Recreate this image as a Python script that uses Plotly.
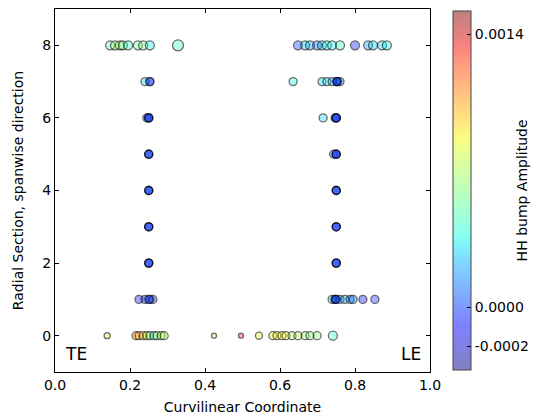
import plotly.graph_objects as go

# ---- data ----
# (overlapping samples at the same location are listed repeatedly)
section = (
    [0]*10 + [0]*13 +
    [1]*4 + [1]*8 + [1, 1, 1] +
    [2, 2, 3, 3, 4, 4, 5, 5, 5, 6, 6, 6, 6, 6] +
    [2, 2, 2, 2, 3, 3, 3, 3, 4, 4, 4, 4, 5, 5, 5, 5, 6, 6, 6, 6] +
    [7]*2 + [7]*6 + [7, 7, 7] +
    [8]*9 + [8]*13
)
coord = (
    [0.139, 0.216, 0.224, 0.235, 0.245, 0.253, 0.264, 0.272, 0.283, 0.291] +
    [0.424, 0.496, 0.544, 0.581, 0.592, 0.605, 0.616, 0.632, 0.648, 0.667, 0.680, 0.699, 0.741] +
    [0.224, 0.240, 0.253, 0.261] +
    [0.739, 0.747, 0.760, 0.773, 0.787, 0.795, 0.821, 0.853] +
    [0.250, 0.747, 0.750] +
    [0.250, 0.750, 0.250, 0.750, 0.250, 0.750, 0.250, 0.743, 0.750,
     0.245, 0.250, 0.715, 0.747, 0.750] +
    [0.250, 0.250, 0.750, 0.750, 0.250, 0.250, 0.750, 0.750, 0.250, 0.250, 0.750, 0.750,
     0.250, 0.250, 0.750, 0.750, 0.250, 0.250, 0.750, 0.750] +
    [0.240, 0.253] +
    [0.635, 0.712, 0.725, 0.739, 0.752, 0.760] +
    [0.253, 0.752, 0.752] +
    [0.147, 0.160, 0.173, 0.181, 0.195, 0.221, 0.235, 0.253, 0.328] +
    [0.648, 0.667, 0.680, 0.699, 0.712, 0.725, 0.739, 0.760, 0.800, 0.835, 0.848, 0.872, 0.885]
)
amplitude = (
    [0.00085, 0.00110, 0.00105, 0.00100, 0.00090, 0.00040, 0.00060, 0.00062, 0.00070, 0.00075] +
    [0.00075, 0.00130, 0.00080, 0.00085, 0.00090, 0.00088, 0.00080, 0.00075, 0.00070, 0.00068,
     0.00062, 0.00060, 0.00040] +
    [-0.00015, -0.00005, 0.00000, -0.00002] +
    [0.00030, -0.00002, 0.00015, 0.00020, 0.00010, 0.00012, -0.00012, -0.00003] +
    [0.0, 0.0, 0.0] +
    [0.0, 0.0, 0.0, 0.0, 0.0, 0.0, 0.0, 0.00010, 0.0,
     0.00010, 0.0, 0.00030, 0.0, 0.0] +
    [0.0]*20 +
    [0.00030, 0.0] +
    [0.00035, 0.00030, 0.00035, 0.00020, 0.0, 0.00005] +
    [0.0, 0.0, 0.0] +
    [0.00050, 0.00065, 0.00070, 0.00050, 0.00040, 0.00055, 0.00060, 0.00035, 0.00045] +
    [0.0, 0.00030, 0.00020, 0.00010, 0.00025, 0.00040, 0.00035, 0.00045, -0.00012,
     0.00020, 0.00030, 0.00030, 0.00035]
)
sizes = (
    [6, 8, 8, 8, 8, 8, 8, 8, 8, 8] +
    [5, 5, 7, 8, 8, 8, 8, 8, 8, 8, 8, 8, 9] +
    [8]*4 + [8]*8 + [8]*3 +
    [8]*14 + [8]*20 +
    [8]*2 + [8]*6 + [8]*3 +
    [9, 9, 9, 9, 9, 9, 9, 9, 11] +
    [9]*13
)
amp_min, amp_max = -0.00032, 0.00152
cbar_ticks = [-0.0002, 0.0, 0.0014]
cbar_ticktext = ["-0.0002", "0.0000", "0.0014"]
x_ticks = [0.0, 0.2, 0.4, 0.6, 0.8, 1.0]
y_ticks = [0, 2, 4, 6, 8]

# ---- jet colormap (matplotlib definition) with alpha ----
def interp(segs, t):
    for (x0, v0), (x1, v1) in zip(segs, segs[1:]):
        if x0 <= t <= x1:
            return v0 + (v1 - v0) * (t - x0) / (x1 - x0) if x1 > x0 else v1
    return segs[-1][1]

R = [(0, 0), (0.35, 0), (0.66, 1), (0.89, 1), (1, 0.5)]
G = [(0, 0), (0.125, 0), (0.375, 1), (0.64, 1), (0.91, 0), (1, 0)]
B = [(0, 0.5), (0.11, 1), (0.34, 1), (0.65, 0), (1, 0)]
n = 41
jet = []
for i in range(n):
    t = i / (n - 1)
    r, g, b = (int(round(255 * interp(s, t))) for s in (R, G, B))
    jet.append([t, f"rgba({r},{g},{b},0.5)"])

fig = go.Figure()
fig.add_trace(go.Scatter(
    x=coord, y=section, mode="markers",
    marker=dict(
        size=sizes, color=amplitude, colorscale=jet, cmin=amp_min, cmax=amp_max,
        line=dict(color="rgba(0,0,0,0.8)", width=1.3),
        colorbar=dict(
            tickmode="array", tickvals=cbar_ticks, ticktext=cbar_ticktext,
            ticks="inside", ticklen=4, tickcolor="black",
            thickness=18, len=0.99, lenmode="fraction",
            x=1.061, xanchor="left", y=0.5, yanchor="middle",
            xpad=0, ypad=0,
            outlinecolor="#444", outlinewidth=1,
            tickfont=dict(size=14, color="black"),
        ),
    ),
    showlegend=False,
))

axis_common = dict(
    showline=True, linecolor="black", linewidth=1, mirror="ticks",
    ticks="inside", ticklen=4, tickcolor="black", showgrid=False, zeroline=False,
    tickfont=dict(size=14, color="black"), automargin=False,
)
fig.update_xaxes(range=[0, 1], tickvals=x_ticks, ticktext=["0.0", "0.2", "0.4", "0.6", "0.8", "1.0"],
                 title=dict(text="Curvilinear Coordinate", font=dict(size=14, color="black"), standoff=10),
                 **axis_common)
fig.update_yaxes(range=[-1, 9], tickvals=y_ticks,
                 title=dict(text="Radial Section, spanwise direction", font=dict(size=14, color="black"), standoff=15),
                 **axis_common)

fig.add_annotation(x=0.02, y=-0.5, text="TE", showarrow=False, xanchor="left", yanchor="middle",
                   font=dict(size=17, color="black"))
fig.add_annotation(x=0.98, y=-0.5, text="LE", showarrow=False, xanchor="right", yanchor="middle",
                   font=dict(size=17, color="black"))
fig.add_annotation(x=1.245, y=0.5, xref="paper", yref="paper", text="HH bump Amplitude",
                   textangle=-90, showarrow=False, xanchor="center", yanchor="middle",
                   font=dict(size=14, color="black"))

fig.update_layout(
    width=531, height=411,
    margin=dict(l=47, r=109, t=1, b=47, autoexpand=False),
    plot_bgcolor="white", paper_bgcolor="white",
    font=dict(family="DejaVu Sans", size=14, color="black"),
)
fig.write_html("out.html")
